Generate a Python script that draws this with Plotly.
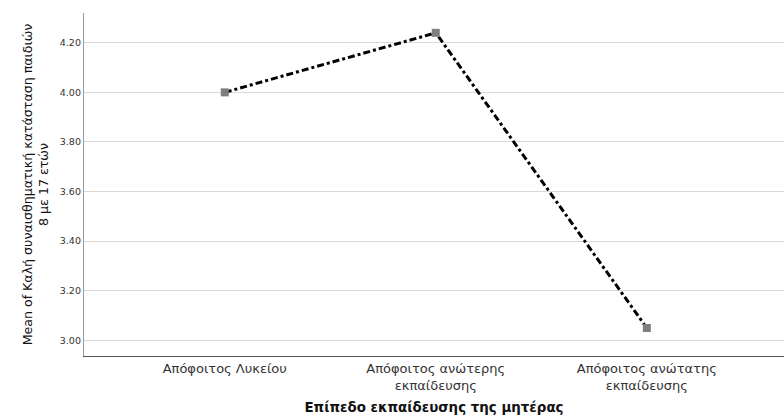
import plotly.graph_objects as go

# Mean score per mother's education level
categories = ["Απόφοιτος Λυκείου", "Απόφοιτος ανώτερης<br>εκπαίδευσης", "Απόφοιτος ανώτατης<br>εκπαίδευσης"]
means = [4.00, 4.24, 3.05]
y_ticks = [3.00, 3.20, 3.40, 3.60, 3.80, 4.00, 4.20]
y_tick_labels = ["3.00", "3.20", "3.40", "3.60", "3.80", "4.00", "4.20"]

font_family = "DejaVu Sans, sans-serif"

fig = go.Figure()
fig.add_trace(go.Scatter(
    x=categories,
    y=means,
    mode="lines+markers",
    line=dict(color="black", width=3, dash="7px,3px,3px,3px"),
    marker=dict(symbol="square", size=8, color="#7f7f7f", line=dict(width=0)),
    showlegend=False,
))

fig.update_layout(
    width=784,
    height=418,
    margin=dict(l=84, r=0, t=13, b=62),
    paper_bgcolor="white",
    plot_bgcolor="white",
    font=dict(family=font_family, color="#222"),
    xaxis=dict(
        type="category",
        range=[-0.667, 2.65],
        showgrid=False,
        showline=True,
        linecolor="#555",
        linewidth=1.3,
        ticks="",
        tickfont=dict(size=13, color="#333"),
        title=dict(text="<b>Επίπεδο εκπαίδευσης της μητέρας</b>", font=dict(size=13.4, color="#111"), standoff=10),
    ),
    yaxis=dict(
        range=[2.937, 4.32],
        tickvals=y_ticks,
        ticktext=y_tick_labels,
        showgrid=True,
        gridcolor="#d9d9d9",
        gridwidth=1.3,
        zeroline=False,
        showline=True,
        linecolor="#999",
        linewidth=1.3,
        ticks="",
        tickfont=dict(size=9.5, color="#333"),
        title=dict(text="Mean of Καλή συναισθηματική κατάσταση παιδιών<br>8 με 17 ετών",
                   font=dict(size=12.6, color="#111"), standoff=8),
    ),
)

fig.write_html("out.html")
